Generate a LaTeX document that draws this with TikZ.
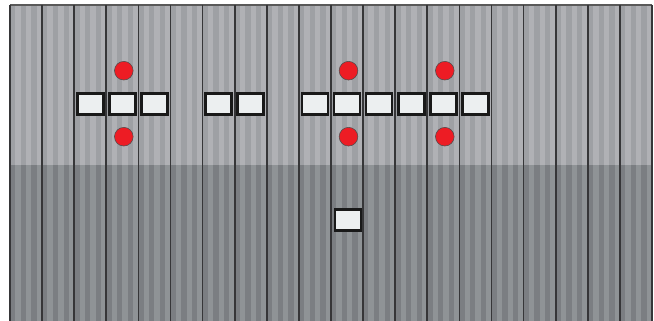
\documentclass[tikz,border=0pt]{standalone}
\usepackage{tikz}
\usetikzlibrary{positioning}
\usepackage{xcolor}
\definecolor{panelhi}{HTML}{B0B1B5}
\definecolor{panello}{HTML}{9EA0A4}
\definecolor{basehi}{HTML}{8F9396}
\definecolor{baselo}{HTML}{7B7E82}
\definecolor{railline}{HTML}{363638}
\definecolor{cellfill}{HTML}{ECEFF0}
\definecolor{pinred}{HTML}{ED1C24}
\tikzset{
  cell/.style={draw=black!90, line width=2pt, fill=cellfill, inner sep=0pt,
    minimum width=19.5pt, minimum height=15.8pt},
  pin/.style={circle, draw=black!70, line width=0.4pt, fill=pinred, inner sep=0pt,
    minimum size=14pt}
}

\begin{document}
\begin{tikzpicture}[x=0.75pt,y=-0.75pt]
  \useasboundingbox (0,0) rectangle (654,321);
  % Panels
  \fill[panelhi] (10,5) rectangle (652,165);
  \fill[basehi]  (10,165) rectangle (652,321);
  % Stripes inside each column
  \foreach \c in {0,...,19}{
    \foreach \s in {0,2,4}{
      \fill[panello] ({10+32.1*\c+5.35*\s},5) rectangle ++(5.35,160);
      \fill[baselo]  ({10+32.1*\c+5.35*\s},165) rectangle ++(5.35,156);
    }
  }
  % Column lines
  \draw[gray!70!black, line width=0.9pt] (10,5) -- (652,5);
  \foreach \c in {0,...,20}
    \draw[railline, line width=1.3pt] ({10+32.1*\c},5) -- ++(0,316);
  % Cells in the upper row
  \foreach \c in {2,3,4,6,7,9,10,11,12,13,14}
    \node[cell] (cell\c) at ({10+32.1*\c+16},104) {};
  % Cell in the lower part
  \node[cell] (base10) at ({10+32.1*10+17},220) {};
  % Pins above and below
  \foreach \c in {3,10,13}{
    \node[pin] (pinup\c) at ({10+32.1*\c+17.5},70.7) {};
    \node[pin] (pindn\c) at ({10+32.1*\c+17.5},136.7) {};
  }
\end{tikzpicture}
\end{document}
